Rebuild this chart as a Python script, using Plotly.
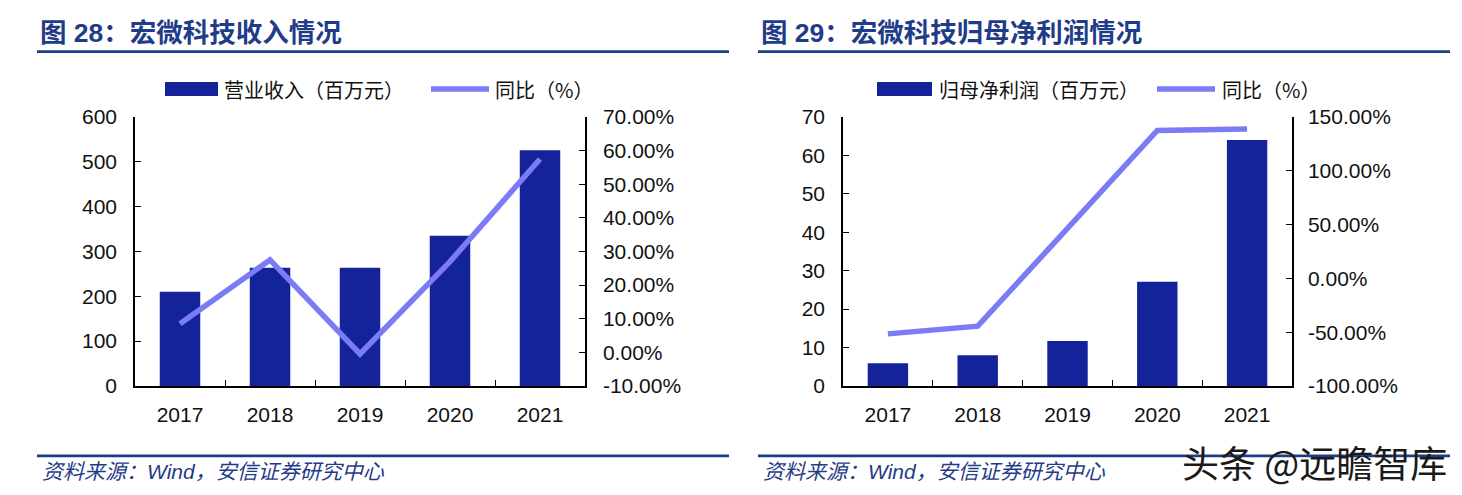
import plotly.graph_objects as go

W, H = 1462, 495

years = ["2017", "2018", "2019", "2020", "2021"]
revenue = [210.4, 263.7, 263.7, 334.9, 526.0]          # 营业收入（百万元）
revenue_yoy = [8.5, 27.5, -0.5, 27.0, 57.5]            # 同比（%）
profit = [5.9, 8.0, 11.7, 27.1, 64.0]                  # 归母净利润（百万元）
profit_yoy = [-51.6, -44.4, 46.5, 137.5, 139.0]        # 同比（%）

left_ticks = [0, 100, 200, 300, 400, 500, 600]
left_pct_ticks = [-10, 0, 10, 20, 30, 40, 50, 60, 70]
right_ticks = [0, 10, 20, 30, 40, 50, 60, 70]
right_pct_ticks = [-100, -50, 0, 50, 100, 150]

title_left = "图 28：宏微科技收入情况"
title_right = "图 29：宏微科技归母净利润情况"
legend_bar_left = "营业收入（百万元）"
legend_bar_right = "归母净利润（百万元）"
legend_line = "同比（%）"
source_text = "资料来源：Wind，安信证券研究中心"
watermark = "头条 @远瞻智库"

BAR = "#14239A"
LINE = "#7B7BF5"
NAVY = "#1F3C88"
TICKFONT = dict(family="Liberation Sans, Arial", size=21, color="#111111")
CJK = "Noto Sans CJK SC"

# vertical calibration of the photographed page (observed = OFF + SCALE * layout px)
V_OFF, V_SCALE = 11.9, 0.954


def px(x):
    return x / W


def py(y):
    return 1 - ((y - V_OFF) / V_SCALE) / H


def pct_text(v):
    return f"{v:.2f}%"


fig = go.Figure()

fig.add_trace(go.Bar(x=years, y=revenue, marker=dict(color=BAR, line_width=0),
                     xaxis="x", yaxis="y", showlegend=False))
fig.add_trace(go.Scatter(x=years, y=revenue_yoy, mode="lines",
                         line=dict(color=LINE, width=5.5), xaxis="x", yaxis="y2",
                         showlegend=False))
fig.add_trace(go.Bar(x=years, y=profit, marker=dict(color=BAR, line_width=0),
                     xaxis="x2", yaxis="y3", showlegend=False))
fig.add_trace(go.Scatter(x=years, y=profit_yoy, mode="lines",
                         line=dict(color=LINE, width=5.5), xaxis="x2", yaxis="y4",
                         showlegend=False))

y_dom = [py(386), py(117)]
xl = [px(135), px(585)]
xr = [px(843), px(1292)]

axis_common = dict(showline=True, linecolor="black", linewidth=1.5, showgrid=False,
                   zeroline=False, tickfont=TICKFONT, ticks="inside", ticklen=6,
                   tickcolor="black", tickwidth=1.2, fixedrange=True)

xaxis_common = dict(axis_common, type="category", tickson="boundaries",
                    ticklabelstandoff=9)

fig.update_layout(
    width=W, height=H,
    margin=dict(l=0, r=0, t=0, b=0),
    paper_bgcolor="white", plot_bgcolor="white",
    bargap=0.55,
    xaxis=dict(xaxis_common, domain=xl, anchor="y"),
    yaxis=dict(axis_common, domain=y_dom, anchor="x", range=[0, 600],
               tickvals=left_ticks, ticklabelstandoff=12),
    yaxis2=dict(axis_common, overlaying="y", side="right", anchor="x",
                range=[-10, 70], tickvals=left_pct_ticks,
                ticktext=[pct_text(v) for v in left_pct_ticks], ticklabelstandoff=12),
    xaxis2=dict(xaxis_common, domain=xr, anchor="y3"),
    yaxis3=dict(axis_common, domain=y_dom, anchor="x2", range=[0, 70],
                tickvals=right_ticks, ticklabelstandoff=12),
    yaxis4=dict(axis_common, overlaying="y3", side="right", anchor="x2",
                range=[-100, 150], tickvals=right_pct_ticks,
                ticktext=[pct_text(v) for v in right_pct_ticks], ticklabelstandoff=10),
)

shapes = []
annotations = []

for x0, x1, title, bar_label, bx0, bx1, tx, lx0, lx1, ltx in [
    (37, 729, title_left, legend_bar_left, 165, 218, 222, 431, 489, 493),
    (758, 1450, title_right, legend_bar_right, 877, 932, 937, 1157, 1215, 1220),
]:
    # title
    annotations.append(dict(x=px(x0 + 1), y=py(33), xref="paper", yref="paper",
                            xanchor="left", yanchor="middle", showarrow=False,
                            text=f"<b>{title}</b>",
                            font=dict(family=f"Liberation Sans, {CJK}", size=26.5, color=NAVY)))
    # rules
    shapes.append(dict(type="line", xref="paper", yref="paper", x0=px(x0), x1=px(x1),
                       y0=py(51.5), y1=py(51.5), line=dict(color=NAVY, width=2.8)))
    shapes.append(dict(type="line", xref="paper", yref="paper", x0=px(x0), x1=px(x1),
                       y0=py(456), y1=py(456), line=dict(color=NAVY, width=2.8)))
    # source
    annotations.append(dict(x=px(x0 + 3), y=py(472), xref="paper", yref="paper",
                            xanchor="left", yanchor="middle", showarrow=False,
                            text=f"<i>{source_text}</i>",
                            font=dict(family=f"Liberation Sans, {CJK}", size=21, color=NAVY)))
    # legend
    shapes.append(dict(type="rect", xref="paper", yref="paper", x0=px(bx0), x1=px(bx1),
                       y0=py(96), y1=py(82), fillcolor=BAR, line_width=0))
    annotations.append(dict(x=px(tx), y=py(89), xref="paper", yref="paper",
                            xanchor="left", yanchor="middle", showarrow=False,
                            text=bar_label,
                            font=dict(family=f"{CJK}", size=20, color="#111111")))
    shapes.append(dict(type="line", xref="paper", yref="paper", x0=px(lx0), x1=px(lx1),
                       y0=py(89), y1=py(89), line=dict(color=LINE, width=5.5)))
    annotations.append(dict(x=px(ltx), y=py(89), xref="paper", yref="paper",
                            xanchor="left", yanchor="middle", showarrow=False,
                            text=legend_line,
                            font=dict(family=f"{CJK}", size=20, color="#111111")))

annotations.append(dict(x=px(1449), y=py(462), xref="paper", yref="paper",
                        xanchor="right", yanchor="middle", showarrow=False,
                        text=watermark,
                        font=dict(family=CJK, size=37, color="#1a1a1a")))

fig.update_layout(shapes=shapes, annotations=annotations)

css_fix = (
    "document.documentElement.style.margin='0';"
    "document.documentElement.style.padding='0';"
    "document.documentElement.style.overflow='hidden';"
    "document.body.style.margin='0';"
    "document.body.style.padding='0';"
    "document.body.style.overflow='hidden';"
)

fig.write_html("out.html", config={"displayModeBar": False}, post_script=css_fix)
